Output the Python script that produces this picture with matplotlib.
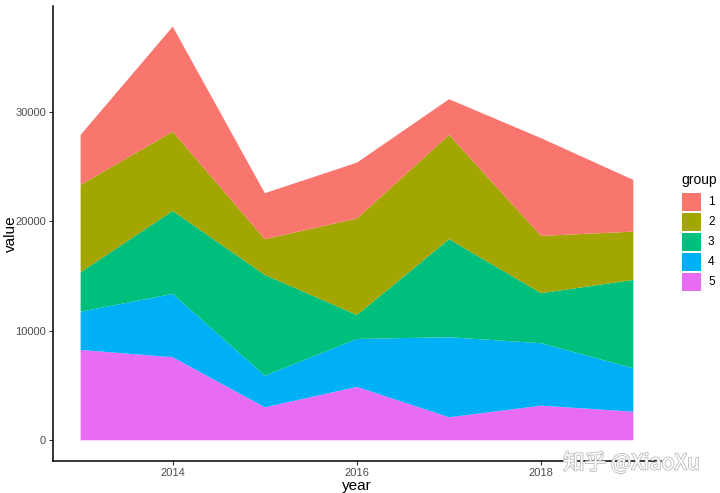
import numpy as np
import matplotlib.pyplot as plt
import matplotlib.patheffects as pe
from matplotlib.patches import Rectangle

plt.rcParams['font.family'] = ['Liberation Sans', 'DejaVu Sans']

# values
years = [2013, 2014, 2015, 2016, 2017, 2018, 2019]
group1 = [4560, 9590, 4200, 5100, 3260, 8920, 4720]
group2 = [7980, 7240, 3260, 8810, 9520, 5230, 4410]
group3 = [3600, 7580, 9200, 2190, 8950, 4570, 8060]
group4 = [3490, 5780, 2890, 4380, 7310, 5700, 3970]
group5 = [8250, 7580, 3010, 4870, 2100, 3160, 2610]
groups = ['1', '2', '3', '4', '5']
colors = ['#F8766D', '#A3A500', '#00BF7D', '#00B0F6', '#E76BF3']

W, H = 720, 493


def main():
    fig = plt.figure(figsize=(W / 100, H / 100), dpi=100)
    ax = fig.add_axes([0.0736, 0.065, 0.8444, 0.923])

    series = [group1, group2, group3, group4, group5]
    # bottom of the stack is group 5
    ax.stackplot(years, series[::-1], colors=colors[::-1], linewidth=0)

    ymax = np.sum(series, axis=0).max()
    ax.set_xlim(2013 - 0.3, 2019 + 0.3)
    ax.set_ylim(-0.05 * ymax, 1.05 * ymax)
    ax.set_xticks([2014, 2016, 2018])
    ax.set_yticks([0, 10000, 20000, 30000])

    for s in ['top', 'right']:
        ax.spines[s].set_visible(False)
    for s in ['left', 'bottom']:
        ax.spines[s].set_linewidth(1.1)
        ax.spines[s].set_color('black')
    ax.tick_params(length=3, width=0.8, color='#333333', labelsize=8,
                   labelcolor='#4D4D4D', pad=2)
    ax.set_xlabel('year', fontsize=11, labelpad=1)
    ax.set_ylabel('value', fontsize=11)
    ax.yaxis.set_label_coords(-0.057, 0.5)

    # legend drawn by hand, ggplot style (pixel positions of the guide box)
    fig.text(681 / W, 1 - 180 / H, 'group', fontsize=10, va='center', ha='left')
    key_w, key_h, top = 19, 20, 192
    for i, (g, c) in enumerate(zip(groups, colors)):
        y0 = top + i * key_h
        fig.add_artist(Rectangle((682 / W, 1 - (y0 + key_h - 0.8) / H),
                                 key_w / W, (key_h - 1.6) / H,
                                 transform=fig.transFigure,
                                 facecolor=c, edgecolor='none'))
        fig.text(708 / W, 1 - (y0 + key_h / 2) / H, g, fontsize=8.5,
                 va='center', ha='left')

    fig.text(0.782, 0.06, '知乎 @XiaoXu', fontsize=15.5, color='white',
             family=['Noto Sans CJK SC', 'DejaVu Sans'], va='center',
             path_effects=[pe.withStroke(linewidth=1.2, foreground='#bbbbbb')])

    fig.savefig('out.png', dpi=100)


if __name__ == "__main__":
    main()
